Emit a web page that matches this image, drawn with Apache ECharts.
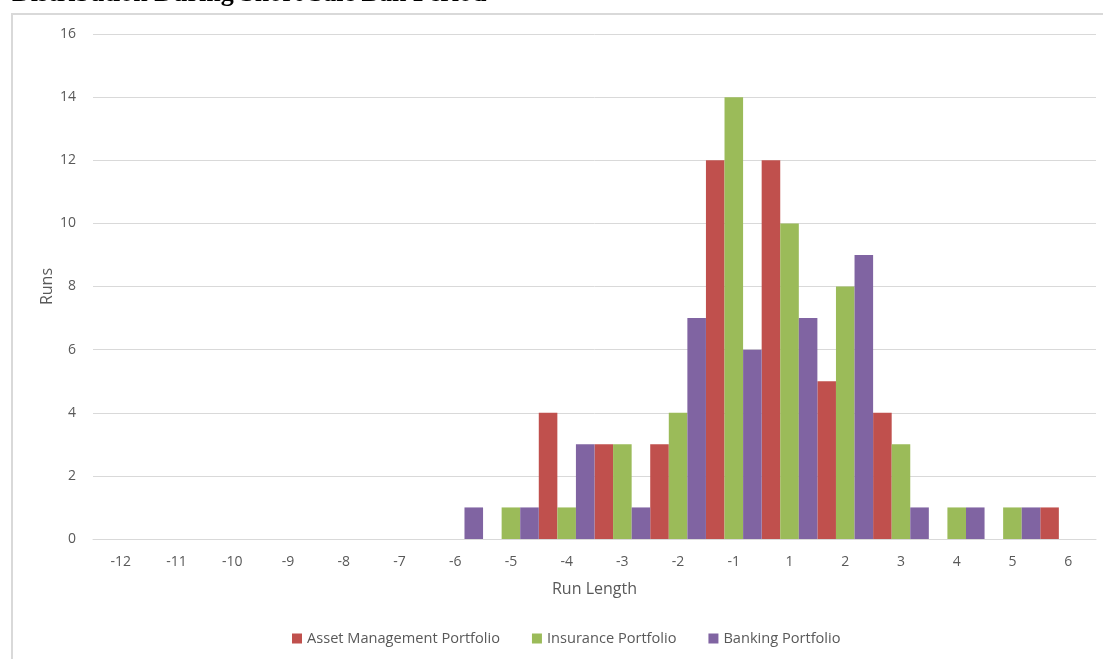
<!DOCTYPE html>
<html>
<head>
<meta charset="utf-8">
<script src="https://cdn.jsdelivr.net/npm/echarts@6/dist/echarts.min.js"></script>
<style>
  html, body { margin: 0; padding: 0; background: #ffffff; }
  #chart { width: 1103px; height: 659px; }
</style>
</head>
<body>
<div id="chart"></div>
<script>
// Run-length categories (there is no zero run length)
const runLengths = ['-12', '-11', '-10', '-9', '-8', '-7', '-6', '-5', '-4', '-3', '-2', '-1', '1', '2', '3', '4', '5', '6'];

// Number of runs per run length for each portfolio
const assetManagement = [0, 0, 0, 0, 0, 0, 0, 0, 4, 3, 3, 12, 12, 5, 4, 0, 0, 1];
const insurance       = [0, 0, 0, 0, 0, 0, 0, 1, 1, 3, 4, 14, 10, 8, 3, 1, 1, 0];
const banking         = [0, 0, 0, 0, 0, 0, 1, 1, 3, 1, 7, 6, 7, 9, 1, 1, 1, 0];

const seriesNames = ['Asset Management Portfolio', 'Insurance Portfolio', 'Banking Portfolio'];
const seriesColors = ['#C0504D', '#9BBB59', '#8064A2'];

const chartTitle = 'Distribution During Short Sale Ban Period';
const uiFont = '"Open Sans", sans-serif';
const labelColor = '#595959';

const chart = echarts.init(document.getElementById('chart'), null, { renderer: 'canvas' });

const makeSeries = (name, data, color) => ({
  name: name,
  type: 'bar',
  data: data,
  barGap: '0%',
  barCategoryGap: '0%',
  itemStyle: { color: color },
  emphasis: { disabled: true }
});

chart.setOption({
  animation: false,
  backgroundColor: '#ffffff',
  graphic: [
    {
      type: 'rect',
      silent: true,
      shape: { x: 12, y: 14, width: 1200, height: 700 },
      style: { fill: 'none', stroke: '#d9d9d9', lineWidth: 2 }
    },
    {
      type: 'text',
      silent: true,
      x: 12,
      y: -18.5,
      style: {
        text: chartTitle,
        font: 'bold 26px "Liberation Serif", serif',
        fill: '#000000',
        verticalAlign: 'top'
      }
    }
  ],
  grid: { left: 93, right: 7, top: 34, bottom: 120, containLabel: false },
  legend: {
    data: seriesNames,
    top: 631,
    left: 292,
    padding: 0,
    itemWidth: 10,
    itemHeight: 10,
    itemGap: 32,
    icon: 'rect',
    textStyle: { color: labelColor, fontSize: 14.6, fontFamily: uiFont }
  },
  xAxis: {
    type: 'category',
    data: runLengths,
    name: 'Run Length',
    nameLocation: 'middle',
    nameGap: 42,
    nameTextStyle: { color: labelColor, fontSize: 16, fontFamily: uiFont },
    axisLine: { show: true, lineStyle: { color: '#d9d9d9', width: 1 } },
    axisTick: { show: false },
    axisLabel: { color: labelColor, fontSize: 14, fontFamily: uiFont, margin: 16 },
    splitLine: { show: false }
  },
  yAxis: {
    type: 'value',
    min: 0,
    max: 16,
    interval: 2,
    name: 'Runs',
    nameLocation: 'middle',
    nameRotate: 90,
    nameGap: 38,
    nameMoveOverlap: false,
    nameTextStyle: { color: labelColor, fontSize: 16, fontFamily: uiFont },
    axisLine: { show: false },
    axisTick: { show: false },
    axisLabel: { color: labelColor, fontSize: 14, fontFamily: uiFont, margin: 17 },
    splitLine: { lineStyle: { color: '#d9d9d9', width: 1 } }
  },
  series: [
    makeSeries(seriesNames[0], assetManagement, seriesColors[0]),
    makeSeries(seriesNames[1], insurance, seriesColors[1]),
    makeSeries(seriesNames[2], banking, seriesColors[2])
  ]
});
</script>
</body>
</html>
